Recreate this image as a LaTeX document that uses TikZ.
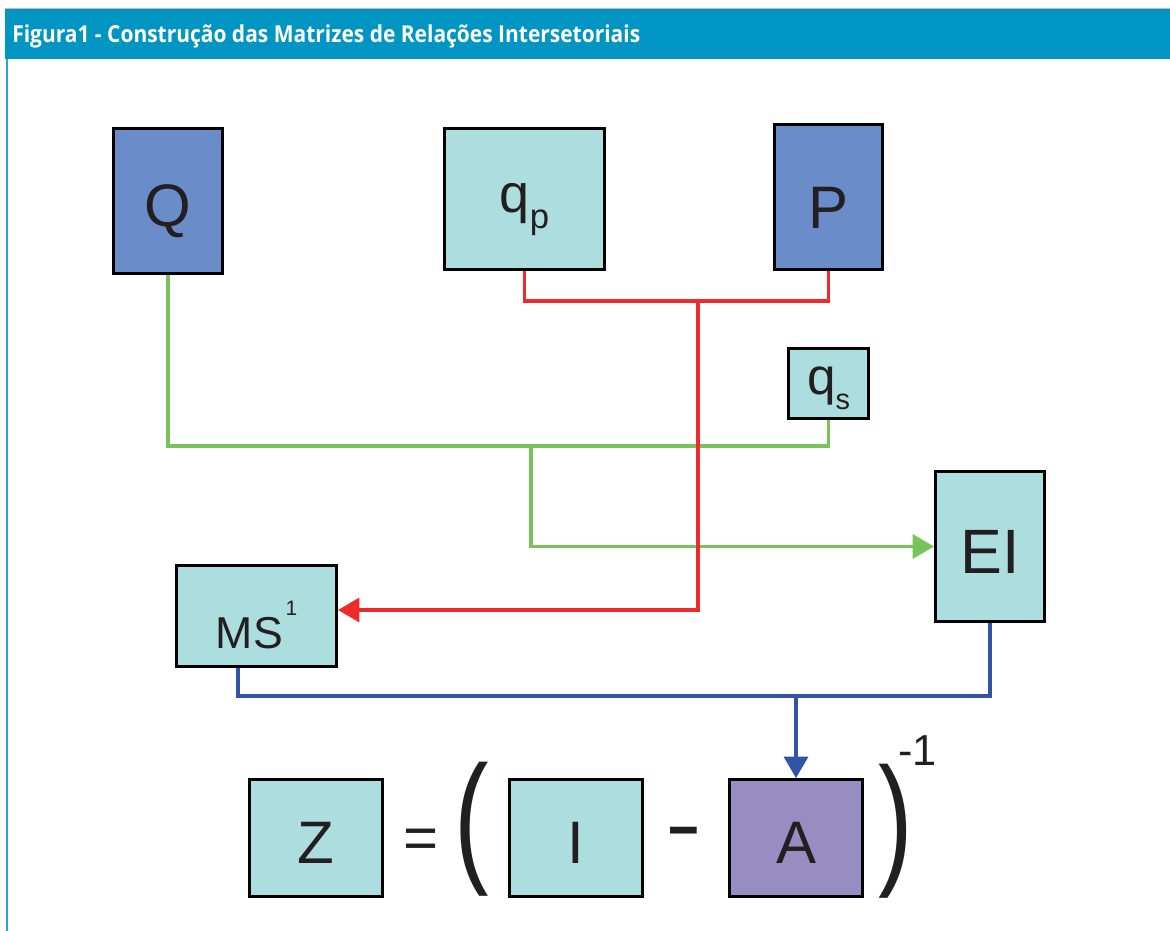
\documentclass[tikz,border=0pt]{standalone}
\usepackage{fontspec}
\usepackage{graphicx}
\setmainfont{Liberation Sans}
\newfontfamily\hdrfont{Open Sans}
\usetikzlibrary{arrows.meta}
\definecolor{hdrblue}{RGB}{0,149,195}
\definecolor{edgeblue}{RGB}{42,163,207}
\definecolor{boxteal}{RGB}{173,222,223}
\definecolor{boxblue}{RGB}{106,140,200}
\definecolor{boxpurple}{RGB}{151,141,194}
\definecolor{lgreen}{RGB}{120,196,90}
\definecolor{lred}{RGB}{238,42,42}
\definecolor{lblue}{RGB}{48,84,166}
\definecolor{ink}{RGB}{35,31,32}
\begin{document}
\begin{tikzpicture}[x=0.75pt,y=-0.75pt,
  mbox/.style={draw=black, line width=2.25pt, inner sep=0pt, text=ink},
  big/.style={font=\fontsize{45}{50}\selectfont},
  glyph/.style={inner sep=0pt, text=ink},
  gline/.style={draw=lgreen, line width=2.5pt},
  rline/.style={draw=lred, line width=2.5pt},
  bline/.style={draw=lblue, line width=2.5pt},
  tip/.style={-{Triangle[length=16pt,width=18pt]}}
]
\useasboundingbox (0,0) rectangle (1170,931);
\fill[white] (0,0) rectangle (1170,931);
% header
\fill[hdrblue] (5,9) rectangle (1170,59);
\draw[black!25, line width=0.75pt] (5,9) -- (1170,9);
\draw[edgeblue, line width=1.5pt] (7,59) -- (7,931);
\node[anchor=base west, inner sep=0pt, text=white, font=\hdrfont\bfseries\fontsize{17.5}{20}\selectfont] (title) at (12,43)
  {\resizebox{471pt}{\height}{Figura1 - Construção das Matrizes de Relações Intersetoriais}};

% boxes
\node[mbox, fill=boxblue, minimum width=81.75pt, minimum height=108.75pt, big, text height=40pt, text depth=2.5pt] (Q) at (168,201) {Q};
\node[mbox, fill=boxteal, minimum width=120pt, minimum height=105.75pt, font=\fontsize{40.5}{45}\selectfont, text height=30pt, text depth=10.5pt] (qp) at (524.5,199)
  {q\raisebox{-12.5pt}{\fontsize{26}{28}\selectfont p}};
\node[mbox, fill=boxblue, minimum width=81pt, minimum height=108.75pt, big, text height=50pt, text depth=3.5pt] (P) at (828.5,197) {P};
\node[mbox, fill=boxteal, minimum width=60pt, minimum height=52.5pt, font=\fontsize{38.5}{42}\selectfont, text height=26pt, text depth=8.8pt] (qs) at (828.5,383.5)
  {q\raisebox{-11.25pt}{\fontsize{21.7}{24}\selectfont s}};
\node[mbox, fill=boxteal, minimum width=120pt, minimum height=75.75pt, font=\fontsize{33.5}{38}\selectfont, text height=50pt, text depth=2pt] (MS) at (256.5,616)
  {MS\hspace{2pt}\raisebox{24.75pt}{\fontsize{15.7}{17}\selectfont 1}};
\node[mbox, fill=boxteal, minimum width=81.75pt, minimum height=112.5pt, font=\fontsize{47}{52}\selectfont, text height=42pt, text depth=2.25pt] (EI) at (990,546.5) {EI};
\node[mbox, fill=boxteal, minimum width=99.75pt, minimum height=87.75pt, big, text height=40pt, text depth=2.5pt] (Z) at (316,838) {Z};
\node[mbox, fill=boxteal, minimum width=99.75pt, minimum height=87.75pt, big, text height=40pt, text depth=2.5pt] (I) at (576,838) {I};
\node[mbox, fill=boxpurple, minimum width=99.75pt, minimum height=87.75pt, big, text height=40pt, text depth=2.5pt] (A) at (796,838) {A};

% equation symbols
\node[glyph, big] (eq) at (421,844) {=};
\node[glyph, font=\fontsize{108}{110}\selectfont, anchor=base] (lp) at (472,866) {\scalebox{0.72}[1]{(}};
\node[glyph, font=\fontsize{45}{50}\selectfont, anchor=base] (minus) at (684,856) {\scalebox{0.8}[1.7]{–}};
\node[glyph, font=\fontsize{108}{110}\selectfont, anchor=base] (rp) at (896,868) {\scalebox{0.72}[1]{)}};
\node[glyph, font=\fontsize{32.5}{36}\selectfont, anchor=base east] (inv) at (937,765) {-1};

% helper coordinates
\coordinate (gy) at (0,446);
\coordinate (gj) at (531,446);
\coordinate (ry) at (0,301);
\coordinate (rj) at (698,301);
\coordinate (rk) at (698,610);
\coordinate (bx) at (238,0);
\coordinate (by) at (0,696);
\coordinate (bj) at (796,696);

% green connectors
\draw[gline] (Q.south) -- (Q.south |- gy) -| (qs.south);
\draw[gline, tip] (gj) |- (EI.west);
% red connectors
\draw[rline] (qp.south) -- (qp.south |- ry) -| (P.south);
\draw[rline, tip] (rj) -- (rk) -- (rk -| MS.east);
% blue connectors
\draw[bline] (MS.south -| bx) -- (bx |- by) -| (EI.south);
\draw[bline, tip] (bj) -- (A.north);
\end{tikzpicture}
\end{document}
